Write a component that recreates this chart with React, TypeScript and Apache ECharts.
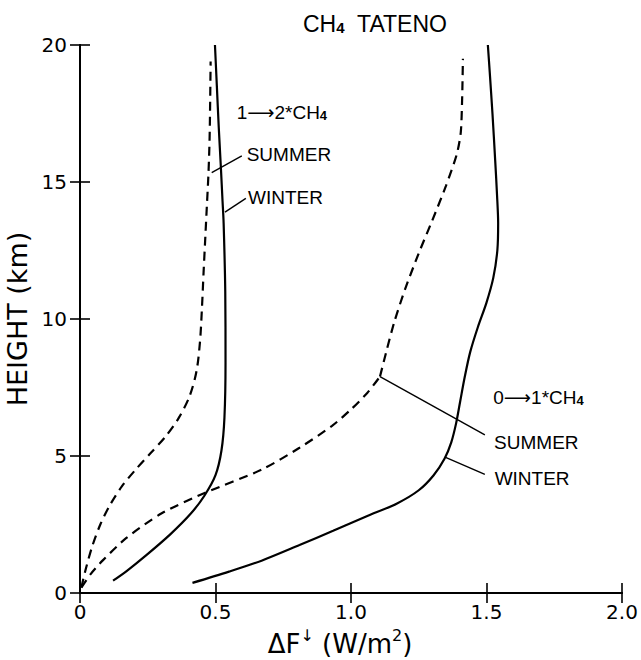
import React, { useEffect, useRef } from "react";
import * as echarts from "echarts";

// ---- axis ticks ----
const xTickValues = [0, 0.5, 1.0, 1.5, 2.0];
const xTickLabels = ["0", "0.5", "1.0", "1.5", "2.0"];
const yTickValues = [0, 5, 10, 15, 20];
const yTickLabels = ["0", "5", "10", "15", "20"];

// ---- curves: [ΔF (W/m2), height (km)] ----
// 1 -> 2*CH4, summer (dashed)
const summer12: [number, number][] = [
  [0.005, 0.2], [0.022, 0.9], [0.045, 1.7], [0.075, 2.5], [0.11, 3.2], [0.155, 3.9],
  [0.205, 4.5], [0.26, 5.1], [0.315, 5.7], [0.365, 6.4], [0.405, 7.2], [0.43, 8.1],
  [0.443, 9.2], [0.45, 10.4], [0.456, 11.7], [0.462, 12.9], [0.468, 14.1], [0.474, 15.3],
  [0.478, 16.5], [0.48, 17.7], [0.482, 19.4],
];
// 1 -> 2*CH4, winter (solid)
const winter12: [number, number][] = [
  [0.122, 0.45], [0.172, 0.8], [0.247, 1.4], [0.334, 2.15], [0.409, 2.9], [0.459, 3.55],
  [0.5, 4.3], [0.522, 5.2], [0.533, 6.4], [0.537, 8.4], [0.536, 11.0], [0.53, 13.5],
  [0.526, 14.3], [0.52, 15.5], [0.512, 17.0], [0.505, 18.5], [0.498, 20.0],
];
// 0 -> 1*CH4, summer (dashed), lower and upper branch meeting at the kink
const summer01Lower: [number, number][] = [
  [0.005, 0.2], [0.04, 0.7], [0.085, 1.2], [0.17, 2.0], [0.3, 2.9], [0.46, 3.65],
  [0.67, 4.5], [0.81, 5.3], [0.93, 6.1], [1.0, 6.7], [1.06, 7.3], [1.107, 7.9],
];
const summer01Upper: [number, number][] = [
  [1.107, 7.9], [1.13, 8.8], [1.16, 9.9], [1.2, 11.1], [1.25, 12.4], [1.3, 13.6],
  [1.35, 14.85], [1.39, 16.0], [1.405, 16.8], [1.41, 18.0], [1.413, 19.5],
];
// 0 -> 1*CH4, winter (solid)
const winter01: [number, number][] = [
  [0.415, 0.37], [0.55, 0.78], [0.67, 1.18], [0.81, 1.75], [0.934, 2.27], [1.058, 2.8],
  [1.17, 3.27], [1.25, 3.75], [1.305, 4.3], [1.345, 4.9], [1.37, 5.5], [1.388, 6.2],
  [1.403, 7.0], [1.42, 7.9], [1.44, 8.8], [1.468, 9.7], [1.5, 10.6], [1.525, 11.5],
  [1.54, 12.5], [1.543, 13.5], [1.539, 14.5], [1.532, 15.8], [1.522, 17.5],
  [1.512, 19.0], [1.505, 20.0],
];

// ---- leader lines (from label to curve) ----
const leaderSummer12: [number, number][] = [[0.597, 15.95], [0.486, 15.34]];
const leaderWinter12: [number, number][] = [[0.612, 14.4], [0.535, 13.9]];
const leaderSummer01: [number, number][] = [[1.107, 7.9], [1.494, 5.77]];
const leaderWinter01: [number, number][] = [[1.349, 4.95], [1.494, 4.33]];

// ---- annotation texts and anchors (left edge, vertical middle) ----
const annotTexts = ["{a|1⟶2*CH}{s|4}", "{a|SUMMER}", "{a|WINTER}", "{a|0⟶1*CH}{s|4}", "{a|SUMMER}", "{a|WINTER}"];
const annotAnchors: [number, number][] = [
  [0.578, 17.6], [0.615, 16.05], [0.62, 14.5], [1.525, 7.2], [1.528, 5.55], [1.53, 4.25],
];

const FONT = "'Liberation Sans', Arial, 'DejaVu Sans', sans-serif";
const WIDE = "'DejaVu Sans', 'Liberation Sans', sans-serif";
const INK = "#000000";

export default function App() {
  const ref = useRef<HTMLDivElement>(null);
  useEffect(() => {
    if (!ref.current) return;
    const chart = echarts.init(ref.current, undefined, { renderer: "svg" });

    const curve = (data: [number, number][], dashed: boolean, smooth = 0.3) => ({
      type: "line",
      data,
      showSymbol: false,
      symbol: "none",
      smooth,
      silent: true,
      xAxisIndex: 0,
      yAxisIndex: 0,
      lineStyle: { color: INK, width: 2.2, type: dashed ? [9, 6] : "solid" },
    });
    const leader = (data: [number, number][]) => ({
      type: "line",
      data,
      showSymbol: false,
      symbol: "none",
      silent: true,
      lineStyle: { color: INK, width: 1.4 },
    });

    const hiddenAxisCommon = {
      axisLine: { show: true, lineStyle: { color: INK, width: 2 } },
      axisTick: { show: true, inside: true, length: 10, lineStyle: { color: INK, width: 1.6 } },
      axisLabel: { show: false },
      splitLine: { show: false },
    };

    chart.setOption({
      animation: false,
      backgroundColor: "#ffffff",
      grid: { left: 80, right: 19, top: 45, bottom: 67, containLabel: false, outerBoundsMode: "none" },
      xAxis: [
        {
          type: "value",
          min: 0,
          max: 2,
          interval: 0.5,
          position: "bottom",
          axisLine: { show: true, lineStyle: { color: INK, width: 2 } },
          axisTick: { show: true, inside: true, length: 10, lineStyle: { color: INK, width: 1.6 } },
          splitLine: { show: false },
          axisLabel: {
            color: INK,
            fontFamily: WIDE,
            fontSize: 20,
            margin: 9,
            formatter: (v: number) => {
              const i = xTickValues.findIndex((t) => Math.abs(t - v) < 1e-9);
              return i >= 0 ? xTickLabels[i] : "";
            },
          },
          name: "{a|ΔF}{u|↓}{a| (W/m}{u|2}{a|)}",
          nameLocation: "middle",
          nameGap: 34,
          nameTextStyle: {
            padding: [0, 22, 0, 0],
            rich: {
              a: { fontFamily: WIDE, fontSize: 26, color: INK, lineHeight: 30, verticalAlign: "bottom" },
              u: { fontFamily: WIDE, fontSize: 16, color: INK, lineHeight: 30, verticalAlign: "top" },
            },
          },
        },
        { type: "value", min: 0, max: 2, interval: 0.5, position: "top", ...hiddenAxisCommon },
      ],
      yAxis: [
        {
          type: "value",
          min: 0,
          max: 20,
          interval: 5,
          position: "left",
          axisLine: { show: true, lineStyle: { color: INK, width: 2 } },
          axisTick: { show: true, inside: true, length: 10, lineStyle: { color: INK, width: 1.6 } },
          splitLine: { show: false },
          axisLabel: {
            color: INK,
            fontFamily: WIDE,
            fontSize: 20,
            margin: 13,
            formatter: (v: number) => {
              const i = yTickValues.findIndex((t) => Math.abs(t - v) < 1e-9);
              return i >= 0 ? yTickLabels[i] : "";
            },
          },
          name: "HEIGHT (km)",
          nameLocation: "middle",
          nameGap: 42,
          nameRotate: 90,
          nameTextStyle: { fontFamily: WIDE, fontSize: 27, color: INK },
        },
        { type: "value", min: 0, max: 20, interval: 5, position: "right", ...hiddenAxisCommon },
      ],
      series: [
        curve(summer12, true),
        curve(winter12, false),
        curve(summer01Lower, true, 0.25),
        curve(summer01Upper, true, 0.25),
        curve(winter01, false),
        leader(leaderSummer12),
        leader(leaderWinter12),
        leader(leaderSummer01),
        leader(leaderWinter01),
        {
          type: "scatter",
          symbolSize: 0,
          silent: true,
          itemStyle: { opacity: 1 },
          data: annotAnchors.map((p, i) => ({ value: p, name: annotTexts[i] })),
          label: {
            show: true,
            position: "right",
            distance: 0,
            opacity: 1,
            formatter: (p: any) => p.name,
            rich: {
              a: { fontFamily: FONT, fontSize: 19, color: INK, lineHeight: 22, verticalAlign: "bottom" },
              s: { fontFamily: FONT, fontSize: 13, color: INK, lineHeight: 22, verticalAlign: "bottom", fontWeight: "bold" },
            },
          },
        },
      ],
      graphic: [
        {
          type: "text",
          x: 375,
          y: 22,
          silent: true,
          style: {
            text: "{a|CH}{s|4}{a|  TATENO}",
            align: "center",
            verticalAlign: "middle",
            rich: {
              a: { fontFamily: FONT, fontSize: 23, fill: INK, lineHeight: 26, verticalAlign: "bottom" },
              s: { fontFamily: FONT, fontSize: 15, fill: INK, lineHeight: 26, verticalAlign: "bottom", fontWeight: "bold" },
            },
          },
        },
      ],
    });

    return () => chart.dispose();
  }, []);

  return (
    <div
      ref={ref}
      style={{ position: "fixed", left: 0, top: 0, width: 641, height: 660, background: "#fff" }}
    />
  );
}
